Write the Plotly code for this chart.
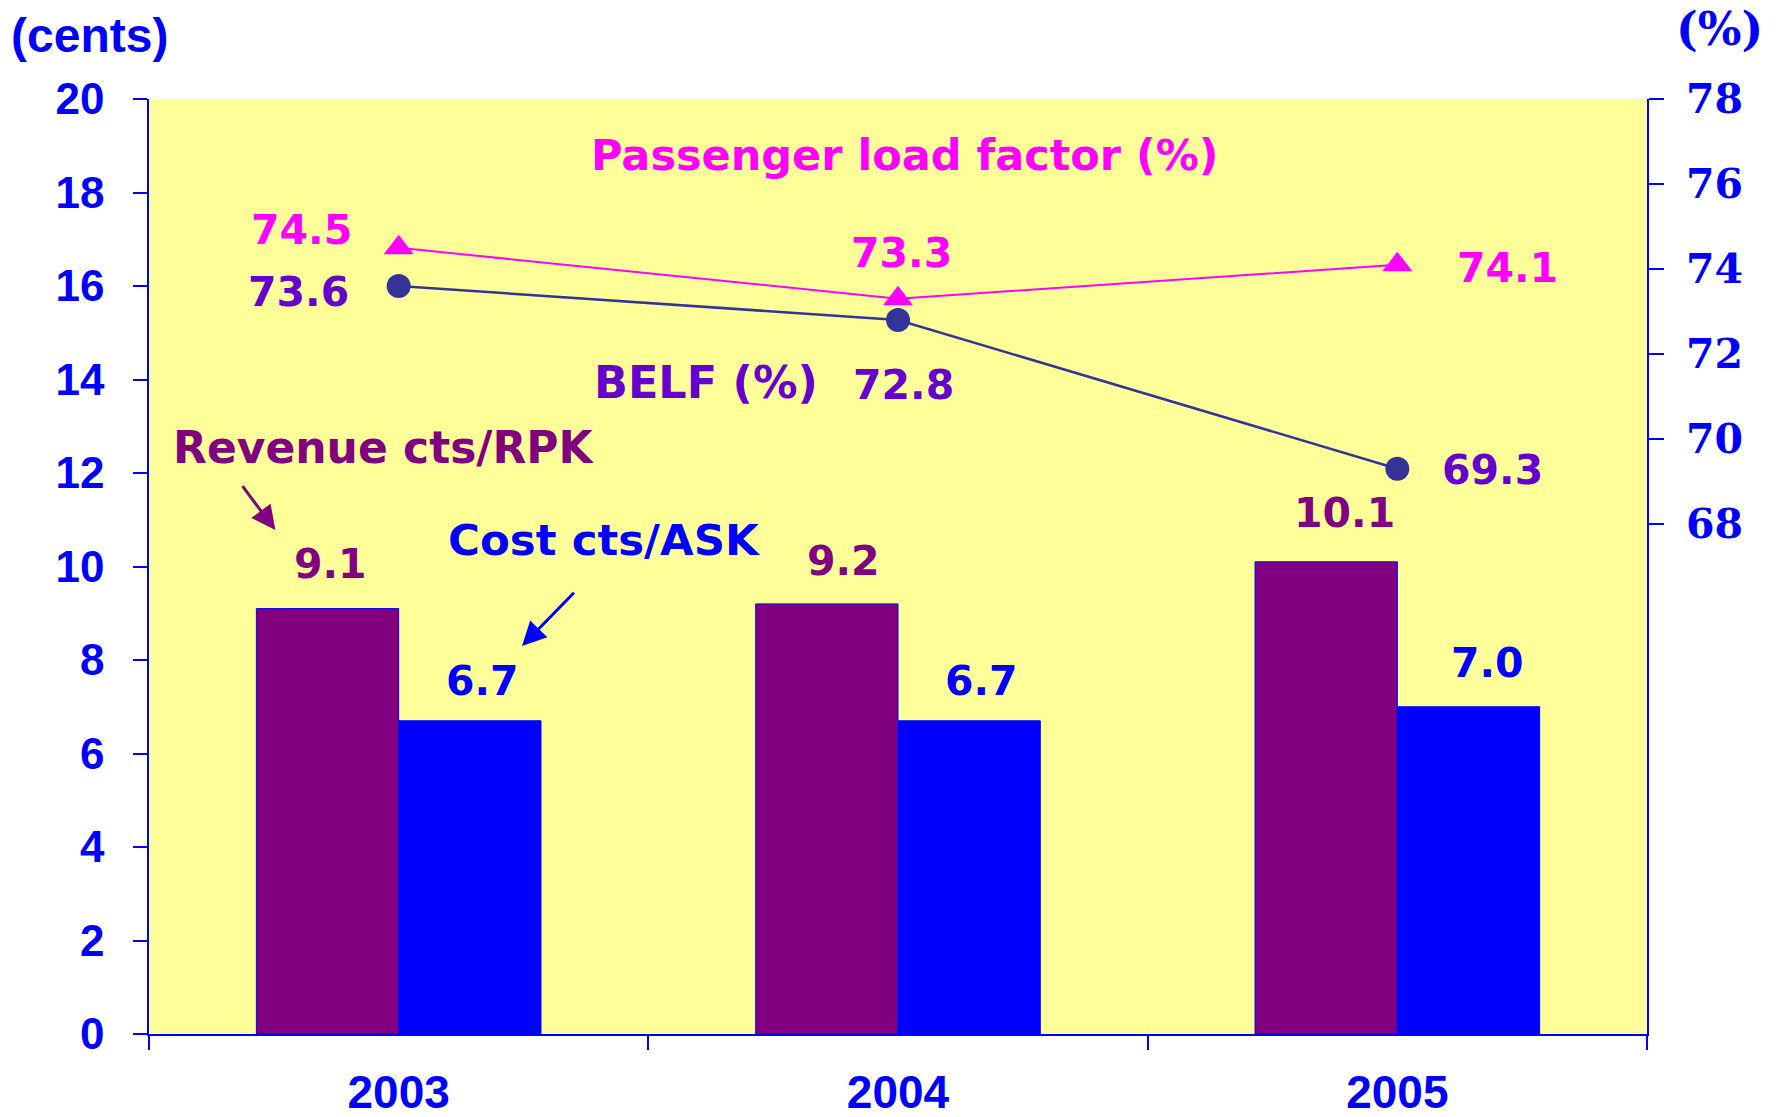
import plotly.graph_objects as go

years = ["2003", "2004", "2005"]
revenue = [9.1, 9.2, 10.1]
cost = [6.7, 6.7, 7.0]
load_factor = [74.5, 73.3, 74.1]
belf = [73.6, 72.8, 69.3]
left_ticks = list(range(0, 21, 2))
right_ticks = [68, 70, 72, 74, 76, 78]

PURPLE = "#800080"
BLUE = "#0000FF"
MAGENTA = "#FF00FF"
NAVY = "#333399"
VIOLET = "#6600CC"
BG = "#FFFF99"

LABEL_FONT = "DejaVu Sans"
AXIS_FONT = "Liberation Sans"
SERIF = "DejaVu Serif"

fig = go.Figure()
fig.add_trace(go.Bar(x=years, y=revenue, marker=dict(color=PURPLE, line=dict(color=BLUE, width=1)),
                     name="Revenue cts/RPK"))
fig.add_trace(go.Bar(x=years, y=cost, marker=dict(color=BLUE, line=dict(color=BLUE, width=1)),
                     name="Cost cts/ASK"))
fig.add_trace(go.Scatter(x=years, y=belf, yaxis="y2", mode="lines+markers",
                         line=dict(color=NAVY, width=2.5),
                         marker=dict(symbol="circle", size=24, color=NAVY), name="BELF"))
fig.add_trace(go.Scatter(x=years, y=load_factor, yaxis="y2", mode="lines+markers",
                         line=dict(color=MAGENTA, width=2),
                         marker=dict(symbol="triangle-up", size=26, color=MAGENTA), name="PLF"))

annotations = []
off = 0.143  # half of grouped bar offset in category units
rev_shift = [(3, 45), (17, 43), (19, 49)]
cost_shift = [(12, 40), (12, 40), (19, 44)]
for i in range(len(years)):
    annotations.append(dict(x=i - off, y=revenue[i], xref="x", yref="y", text=f"<b>{revenue[i]:.1f}</b>",
                            showarrow=False, xshift=rev_shift[i][0], yshift=rev_shift[i][1],
                            font=dict(family=LABEL_FONT, size=41, color=PURPLE)))
    annotations.append(dict(x=i + off, y=cost[i], xref="x", yref="y", text=f"<b>{cost[i]:.1f}</b>",
                            showarrow=False, xshift=cost_shift[i][0], yshift=cost_shift[i][1],
                            font=dict(family=LABEL_FONT, size=41, color=BLUE)))
lf_shift = [(-97, 18), (3, 46), (110, -3)]
belf_shift = [(-100, -6), (5, -65), (95, -1)]
for i in range(len(years)):
    annotations.append(dict(x=i, y=load_factor[i], xref="x", yref="y2", text=f"<b>{load_factor[i]:.1f}</b>",
                            showarrow=False, xshift=lf_shift[i][0], yshift=lf_shift[i][1],
                            font=dict(family=LABEL_FONT, size=41, color=MAGENTA)))
    annotations.append(dict(x=i, y=belf[i], xref="x", yref="y2", text=f"<b>{belf[i]:.1f}</b>",
                            showarrow=False, xshift=belf_shift[i][0], yshift=belf_shift[i][1],
                            font=dict(family=LABEL_FONT, size=41, color=VIOLET)))

# series captions
annotations += [
    dict(x=1.014, y=18.81, xref="x", yref="y", text="<b>Passenger load factor (%)</b>", showarrow=False,
         font=dict(family=LABEL_FONT, size=43, color=MAGENTA)),
    dict(x=-0.029, y=12.55, xref="x", yref="y", text="<b>Revenue cts/RPK</b>", showarrow=False,
         font=dict(family=LABEL_FONT, size=44, color=PURPLE)),
    dict(x=0.413, y=10.56, xref="x", yref="y", text="<b>Cost cts/ASK</b>", showarrow=False,
         font=dict(family=LABEL_FONT, size=43.5, color=BLUE)),
    dict(x=0.615, y=13.93, xref="x", yref="y", text="<b>BELF (%)</b>", showarrow=False,
         font=dict(family=LABEL_FONT, size=44.5, color=VIOLET)),
    # arrows
    dict(x=-0.247, y=10.78, ax=-0.315, ay=11.75, xref="x", yref="y", axref="x", ayref="y", text="",
         showarrow=True, arrowhead=2, arrowsize=1.6, arrowwidth=3, arrowcolor=PURPLE),
    dict(x=0.247, y=8.30, ax=0.354, ay=9.47, xref="x", yref="y", axref="x", ayref="y", text="",
         showarrow=True, arrowhead=2, arrowsize=1.6, arrowwidth=3, arrowcolor=BLUE),
    # axis units
    dict(x=0, y=1, xref="paper", yref="paper", xanchor="left", yanchor="middle", text="<b>(cents)</b>",
         showarrow=False, xshift=-140, yshift=64, font=dict(family=AXIS_FONT, size=48, color=BLUE)),
    dict(x=1, y=1, xref="paper", yref="paper", xanchor="left", yanchor="middle", text="<b>(%)</b>",
         showarrow=False, xshift=27, yshift=70, font=dict(family=SERIF, size=46, color=BLUE)),
]

fig.update_layout(
    width=1777, height=1117,
    margin=dict(l=149, r=130, t=99, b=83, autoexpand=False),
    paper_bgcolor="white", plot_bgcolor=BG,
    barmode="group", bargap=0.43, bargroupgap=0,
    showlegend=False,
    annotations=annotations,
    xaxis=dict(type="category", range=[-0.5, 2.5], tickson="boundaries", ticks="outside", ticklen=14,
               tickcolor=BLUE, tickwidth=1.5, showline=True, linecolor=BLUE, linewidth=1.5,
               showgrid=False, zeroline=False, ticklabelstandoff=17,
               tickfont=dict(family=AXIS_FONT, size=46, color=BLUE, weight="bold")),
    yaxis=dict(range=[0, 20], tickvals=left_ticks, ticks="outside", ticklen=14, tickcolor=BLUE, tickwidth=1.5,
               showline=True, linecolor=BLUE, linewidth=1.5, showgrid=False, zeroline=False,
               ticklabelstandoff=20,
               tickfont=dict(family=AXIS_FONT, size=44, color=BLUE, weight="bold")),
    yaxis2=dict(range=[56, 78], tickvals=right_ticks, overlaying="y", side="right", ticks="outside",
                ticklen=15, tickcolor=BLUE, tickwidth=1.5, showline=True, linecolor=BLUE, linewidth=1.5,
                showgrid=False, zeroline=False, ticklabelstandoff=14,
                tickfont=dict(family=SERIF, size=41, color=BLUE, weight="bold")),
)

fig.write_html("out.html", config={"displayModeBar": False},
               post_script="document.body.style.margin='0';document.body.style.overflow='hidden';")
